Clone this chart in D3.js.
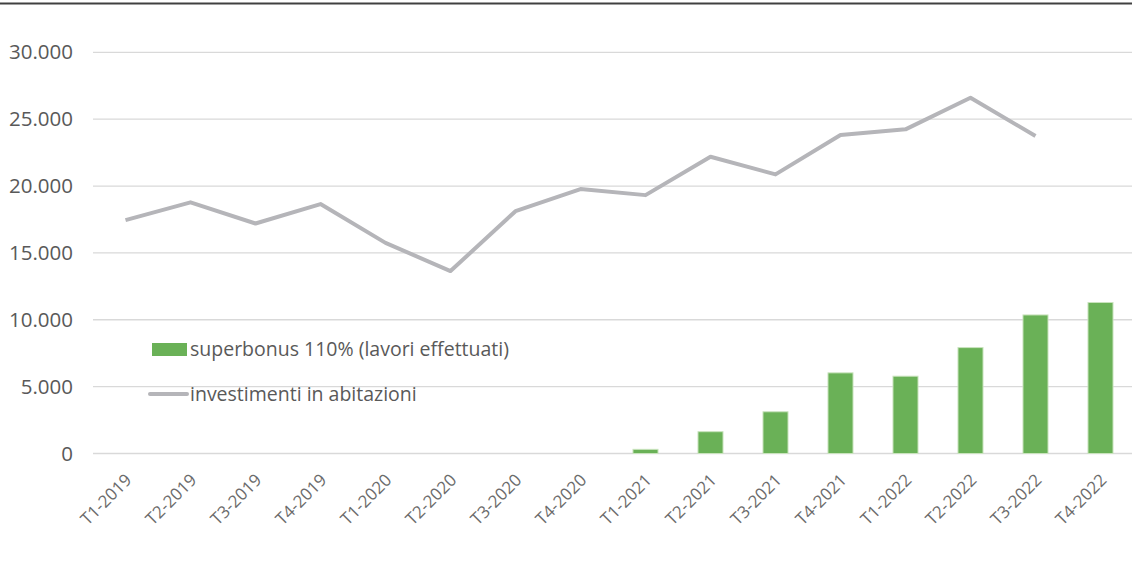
<!DOCTYPE html>
<html>
<head>
<script src="https://cdn.jsdelivr.net/npm/d3@7"></script>
<style type="text/css">
  body{
    background: white;
    margin: 0px;
    font-family: 'Open Sans', sans-serif;
  }
  .grid line{
    stroke: #d9d9d9;
    stroke-width: 1.3px;
  }
  .ylab text, .xlab text, .legend text{
    fill: #595959;
  }
  .line{
    fill: none;
    stroke: #b5b5b9;
    stroke-width: 4px;
    stroke-linejoin: round;
  }
  .bar{
    fill: #6ab157;
    stroke: #c9e3bd;
    stroke-width: 1px;
  }
</style>
</head>
<body>
<script>

var quarters = ["T1-2019","T2-2019","T3-2019","T4-2019","T1-2020","T2-2020","T3-2020","T4-2020",
                "T1-2021","T2-2021","T3-2021","T4-2021","T1-2022","T2-2022","T3-2022","T4-2022"];

// investimenti in abitazioni (T4-2022 missing)
var investimenti = [17450, 18780, 17200, 18650, 15750, 13640, 18120, 19770,
                    19320, 22190, 20870, 23810, 24240, 26600, 23740, null];

// superbonus 110% (lavori effettuati)
var superbonus = [0, 0, 0, 0, 0, 0, 0, 0,
                  310, 1630, 3120, 6030, 5780, 7920, 10360, 11290];

var yTicks = [0, 5000, 10000, 15000, 20000, 25000, 30000];

var legendLabels = ["superbonus 110% (lavori effettuati)", "investimenti in abitazioni"];

var W = 1132, H = 561;

var svg = d3.select("body").append("svg")
    .attr("width", W)
    .attr("height", H);

// top rule
svg.append("line")
    .attr("x1", 0).attr("x2", W)
    .attr("y1", 3.5).attr("y2", 3.5)
    .attr("stroke", "#404040")
    .attr("stroke-width", 2);

var plotLeft = 93, plotRight = 1132;

var x = d3.scaleBand().domain(quarters).range([plotLeft, plotRight + 1]).paddingInner(0.615).paddingOuter(0.3075);
var y = d3.scaleLinear().domain([0, 30000]).range([453.5, 52.3]);

var fmt = function(v) { return d3.format(",")(v).replace(/,/g, "."); };

// gridlines
svg.append("g").attr("class", "grid")
  .selectAll("line")
  .data(yTicks)
  .enter().append("line")
    .attr("x1", plotLeft).attr("x2", plotRight)
    .attr("y1", function(d) { return y(d); })
    .attr("y2", function(d) { return y(d); });

// y labels
svg.append("g").attr("class", "ylab")
  .selectAll("text")
  .data(yTicks)
  .enter().append("text")
    .attr("x", 73)
    .attr("y", function(d) { return y(d); })
    .attr("dy", "0.35em")
    .attr("text-anchor", "end")
    .style("font-size", "20.5px")
    .text(fmt);

// bars
svg.append("g")
  .selectAll("rect")
  .data(superbonus.map(function(v, i) { return {q: quarters[i], v: v}; }).filter(function(d) { return d.v > 0; }))
  .enter().append("rect")
    .attr("class", "bar")
    .attr("x", function(d) { return x(d.q); })
    .attr("width", x.bandwidth())
    .attr("y", function(d) { return y(d.v); })
    .attr("height", function(d) { return y(0) - y(d.v); });

// line
var line = d3.line()
    .defined(function(d) { return d.v != null; })
    .x(function(d) { return x(d.q) + x.bandwidth() / 2; })
    .y(function(d) { return y(d.v); });

svg.append("path")
    .datum(investimenti.map(function(v, i) { return {q: quarters[i], v: v}; }))
    .attr("class", "line")
    .attr("d", line);

// x labels
svg.append("g").attr("class", "xlab")
  .selectAll("text")
  .data(quarters)
  .enter().append("text")
    .attr("transform", function(d) {
      return "translate(" + (x(d) + x.bandwidth() / 2 + 3) + ",477) rotate(-45)";
    })
    .attr("text-anchor", "end")
    .attr("dy", "0.35em")
    .style("font-size", "17px")
    .style("fill", "#6b6b6b")
    .text(function(d) { return d; });

// legend
var legend = svg.append("g").attr("class", "legend");

legend.append("rect")
    .attr("x", 152).attr("y", 343)
    .attr("width", 35).attr("height", 13)
    .attr("fill", "#6ab157");

legend.append("line")
    .attr("x1", 150).attr("x2", 187)
    .attr("y1", 394).attr("y2", 394)
    .attr("stroke", "#b5b5b9")
    .attr("stroke-width", 4)
    .attr("stroke-linecap", "round");

legend.selectAll("text")
  .data(legendLabels)
  .enter().append("text")
    .attr("x", 190)
    .attr("y", function(d, i) { return 349 + i * 45; })
    .attr("dy", "0.35em")
    .style("font-size", "19.5px")
    .text(function(d) { return d; });

</script>
</body>
</html>
